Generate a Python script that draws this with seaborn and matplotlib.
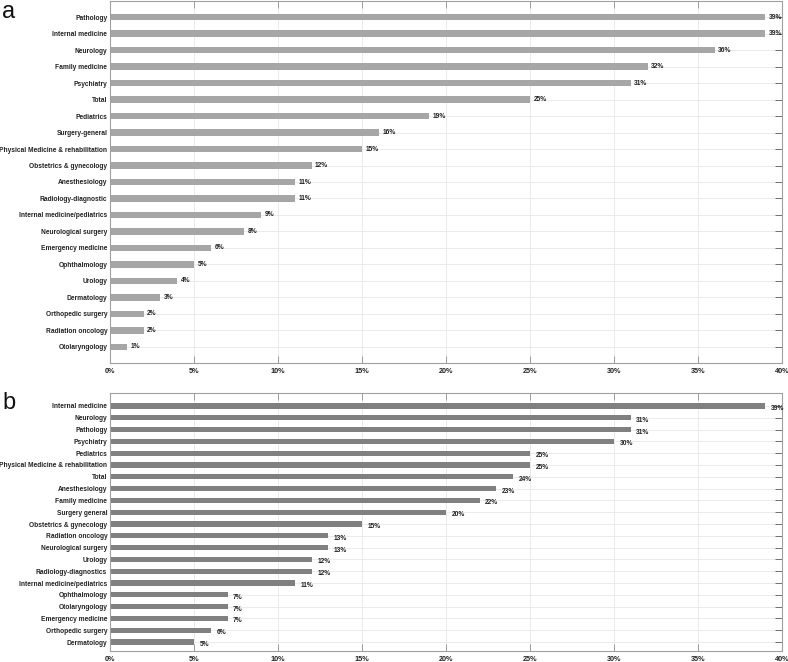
import matplotlib
matplotlib.use("Agg")
import matplotlib.pyplot as plt
import seaborn as sns
import pandas as pd
from matplotlib.ticker import FuncFormatter, MultipleLocator

cats_a = ["Pathology", "Internal medicine", "Neurology", "Family medicine", "Psychiatry",
          "Total", "Pediatrics", "Surgery-general", "Physical Medicine & rehabilitation",
          "Obstetrics & gynecology", "Anesthesiology", "Radiology-diagnostic",
          "Internal medicine/pediatrics", "Neurological surgery", "Emergency medicine",
          "Ophthalmology", "Urology", "Dermatology", "Orthopedic surgery",
          "Radiation oncology", "Otolaryngology"]
vals_a = [39, 39, 36, 32, 31, 25, 19, 16, 15, 12, 11, 11, 9, 8, 6, 5, 4, 3, 2, 2, 1]

cats_b = ["Internal medicine", "Neurology", "Pathology", "Psychiatry", "Pediatrics",
          "Physical Medicine & rehabilitation", "Total", "Anesthesiology", "Family medicine",
          "Surgery general", "Obstetrics & gynecology", "Radiation oncology",
          "Neurological surgery", "Urology", "Radiology-diagnostics",
          "Internal medicine/pediatrics", "Ophthalmology", "Otolaryngology",
          "Emergency medicine", "Orthopedic surgery", "Dermatology"]
vals_b = [39, 31, 31, 30, 25, 25, 24, 23, 22, 20, 15, 13, 13, 12, 12, 11, 7, 7, 7, 6, 5]

sns.set_theme(style="white")
plt.rcParams['font.family'] = ['Liberation Sans', 'DejaVu Sans']

fig = plt.figure(figsize=(7.88, 6.62), dpi=100)
W, H = 788, 662
ax_a = fig.add_axes([110 / W, 1 - 363 / H, 672 / W, 362 / H])
ax_b = fig.add_axes([110 / W, 1 - 651 / H, 672 / W, 258 / H])


def style(ax, cats, vals, color, width, dx, dy):
    df = pd.DataFrame({"cat": cats, "val": vals})
    sns.barplot(data=df, x="val", y="cat", orient="h", color=color, width=width,
                saturation=1, ax=ax, edgecolor="none")
    ax.set_xlim(0, 40)
    ax.set_xlabel("")
    ax.set_ylabel("")
    ax.xaxis.set_major_locator(MultipleLocator(5))
    ax.xaxis.set_major_formatter(FuncFormatter(lambda v, p: f"{int(v)}%"))
    ax.grid(True, axis="both", color="#e8e8e8", linewidth=0.6)
    ax.set_axisbelow(True)
    for s in ax.spines.values():
        s.set_color("#a0a0a0")
        s.set_linewidth(0.8)
    ax.tick_params(axis="y", direction="in", left=True, right=True, length=5,
                   width=0.7, color="#707070", labelsize=4.75, pad=2)
    ax.tick_params(axis="x", direction="in", bottom=True, top=True, length=5,
                   width=0.6, color="#909090", labelsize=5.2, pad=3.5)
    for lab in ax.get_yticklabels() + ax.get_xticklabels():
        lab.set_fontweight("bold")
        lab.set_color("#222222")
    for i, v in enumerate(vals):
        ax.annotate(f"{v}%", xy=(v, i), xytext=(dx, dy), textcoords="offset points",
                    ha="left", va="center", fontsize=4.8, fontweight="bold", color="#222222")


style(ax_a, cats_a, vals_a, "#a6a6a6", 0.4, 2.5, 0)
style(ax_b, cats_b, vals_b, "#808080", 0.45, 4, -1.8)
ax_a.set_ylim(len(cats_a) - 1 + 0.97, -0.97)
ax_b.set_ylim(len(cats_b) - 1 + 0.76, -1.1)

fig.text(2 / W, 1 - 12 / H, "a", fontsize=17, va="center", ha="left", color="#111111")
fig.text(2 / W, 1 - 403 / H, "b", fontsize=17, va="center", ha="left", color="#111111")

fig.savefig("out.png", dpi=100, facecolor="white")
